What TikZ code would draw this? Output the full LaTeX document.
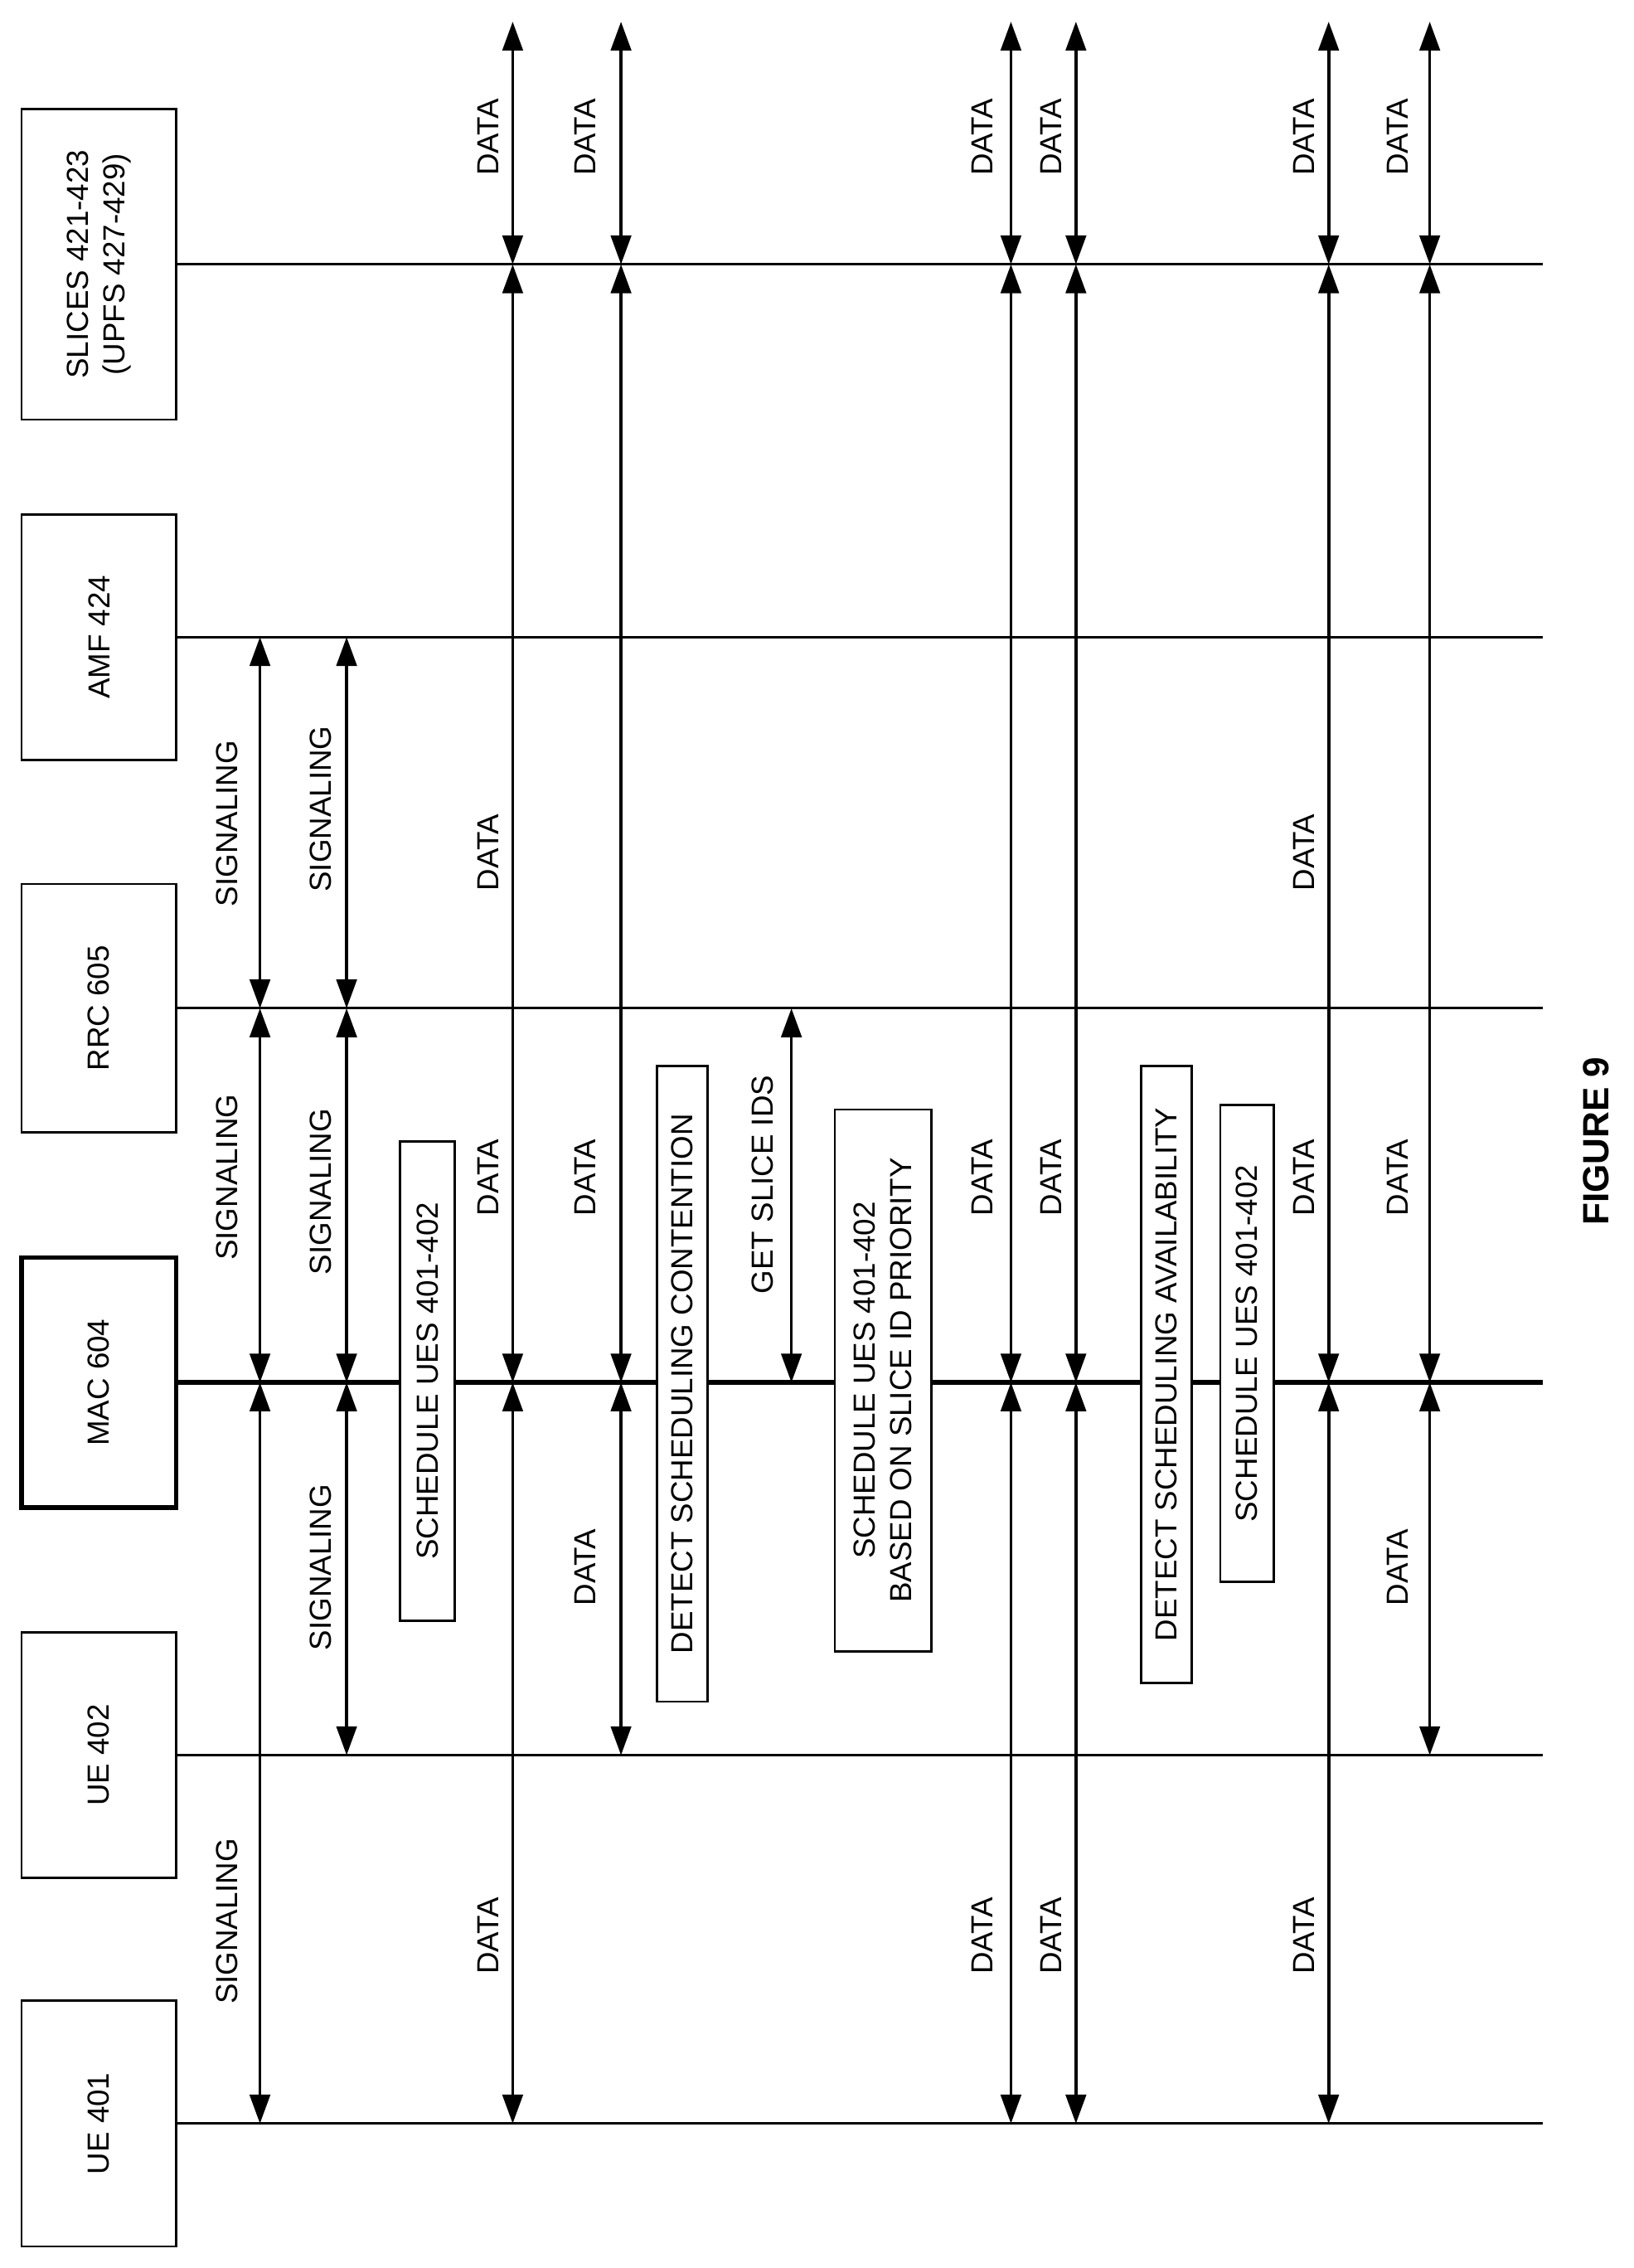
\documentclass[tikz,border=0pt]{standalone}
\usepackage{fontspec}
\setmainfont{Liberation Sans}
\usetikzlibrary{arrows.meta}

\begin{document}
\begin{tikzpicture}[x=0.5mm,y=-0.5mm,
  ent/.style={draw,line width=2.2pt,rotate=90,font=\fontsize{30}{36}\selectfont,inner sep=0pt},
  msg/.style={line width=3pt,{Triangle[length=10mm,width=7mm]}-{Triangle[length=10mm,width=7mm]}},
  lbl/.style={rotate=90,font=\fontsize{30}{36}\selectfont,inner sep=0pt},
  act/.style={draw,fill=white,line width=2.2pt,rotate=90,font=\fontsize{30}{36}\selectfont,align=center,inner sep=0pt}]
\useasboundingbox (0,0) rectangle (1131,1570);
% entities
\foreach \nm/\txt/\y/\h in {sl/{SLICES 421-423\\(UPFS 427-429)}/183/215,amf/AMF 424/441/170,rrc/RRC 605/698/172,ue2/UE 402/1215/170,ue1/UE 401/1470/170}{
  \node[ent,align=center,minimum width=\h*0.5mm,minimum height=53.5mm] (\nm) at (68.5,\y) {\txt};
  \draw[line width=2.4pt] (\nm.south) -- (1068,\y);
}
\node[ent,line width=4.5pt,minimum width=86.5mm,minimum height=53.5mm] (mac) at (68.5,957) {MAC 604};
\draw[line width=5pt] (mac.south) -- (1068,957);
% signaling
\foreach \x/\a/\b in {180/441/698,180/698/957,180/957/1470,240/441/698,240/698/957,240/957/1215,548/698/957}
  \draw[msg] (\x,\a) -- (\x,\b);
% data
\foreach \x/\e in {355/1470,430/1215,700/1470,745/1470,920/1470,990/1215}{
  \draw[msg] (\x,15) -- (\x,183);
  \draw[msg] (\x,183) -- (\x,957);
  \draw[msg] (\x,957) -- (\x,\e);
}
% labels
\foreach \x/\y/\t in {157/570/SIGNALING,157/815/SIGNALING,157/1330/SIGNALING,
  222/560/SIGNALING,222/825/SIGNALING,222/1085/SIGNALING,
  338/95/DATA,338/590/DATA,338/815/DATA,338/1340/DATA,
  405/95/DATA,405/815/DATA,405/1085/DATA,528/820/GET SLICE IDS,
  680/95/DATA,680/815/DATA,680/1340/DATA,728/95/DATA,728/815/DATA,728/1340/DATA,
  903/95/DATA,903/590/DATA,903/815/DATA,903/1340/DATA,968/95/DATA,968/815/DATA,968/1085/DATA}
  \node[lbl] at (\x,\y) {\t};
% actions
\node[act,minimum width=166mm,minimum height=19mm] (s1) at (296,956) {SCHEDULE UES 401-402};
\node[act,minimum width=220mm,minimum height=17.5mm] (dc) at (472.5,958) {DETECT SCHEDULING CONTENTION};
\node[act,minimum width=187.5mm,minimum height=33.5mm] (s2) at (611.5,955.5) {SCHEDULE UES 401-402\\BASED ON SLICE ID PRIORITY};
\node[act,minimum width=213.5mm,minimum height=17.5mm] (da) at (807.5,951.5) {DETECT SCHEDULING AVAILABILITY};
\node[act,minimum width=165mm,minimum height=18.5mm] (s3) at (863.5,930) {SCHEDULE UES 401-402};
\node[rotate=90,font=\bfseries\fontsize{36}{42}\selectfont] (fig) at (1105,790) {FIGURE 9};
\end{tikzpicture}
\end{document}
